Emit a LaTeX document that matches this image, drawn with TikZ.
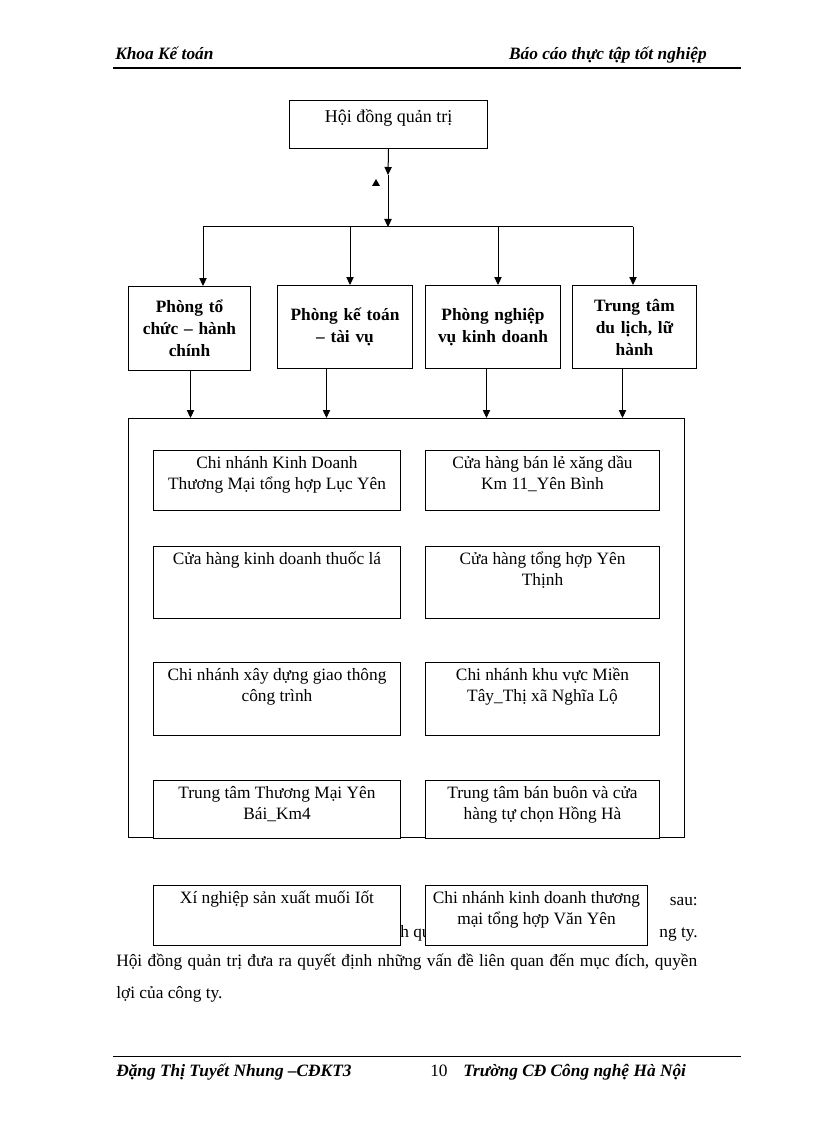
\documentclass[tikz,border=0pt]{standalone}
\usepackage{fontspec}
\setmainfont{Liberation Serif}
\usetikzlibrary{arrows.meta,positioning}

% text box with its lines pinned to the top
\newcommand{\cellbox}[4][13.5pt]{\parbox[c][#3][t]{#2}{\centering\rule{0pt}{#1}#4\par}}

\tikzset{
  page/.style={font=\fontsize{13}{15.5}\selectfont,inner sep=0pt},
  headtext/.style={font=\bfseries\itshape\fontsize{13}{15}\selectfont,inner sep=0pt},
  board/.style={draw=black,line width=0.75pt,inner sep=0pt,anchor=north west,font=\fontsize{13.5}{16}\selectfont},
  dept/.style={draw=black,line width=0.75pt,inner sep=0pt,anchor=north west,align=center,font=\bfseries\fontsize{13}{16.5}\selectfont},
  unit/.style={draw=black,line width=0.75pt,fill=white,inner sep=0pt,anchor=north west,font=\fontsize{13}{15.5}\selectfont},
  link/.style={line width=0.75pt,-{Triangle[width=5.5pt,length=6pt]}},
}

\begin{document}
\begin{tikzpicture}[x=0.75pt,y=-0.75pt]

\fill[white] (0,0) rectangle (816,1123);
\useasboundingbox (0,0) rectangle (816,1123);

% header and footer
\node[headtext,anchor=base west] (hl) at (115,60) {Khoa Kế toán};
\node[headtext,anchor=base east] (hr) at (707,60) {Báo cáo thực tập tốt nghiệp};
\draw[line width=1.5pt] (113,68) -- (741,68);
\draw[line width=0.6pt] (113,1056) -- (741,1056);
\node[headtext,anchor=base west] (fl) at (116,1076) {Đặng Thị Tuyết Nhung –CĐKT3};
\node[page,anchor=base west] (pg) at (430,1076) {10};
\node[headtext,anchor=base west] (fr) at (463,1076) {Trường CĐ Công nghệ Hà Nội};

% top level
\node[board] (hd) at (289,100) {\cellbox[16.5pt]{148.5pt}{36pt}{Hội đồng quản trị}};
\coordinate (mid) at (388,175);
\coordinate (bus) at (388,227);
\draw[link] (hd.south) -- (mid);
\draw[link] (mid) -- (bus);
\fill (376,179) -- (372,186) -- (380,186) -- cycle;

\coordinate (b1) at (203,227);
\coordinate (b2) at (350,227);
\coordinate (b3) at (498,227);
\coordinate (b4) at (633,227);
\draw[line width=0.75pt] (b1) -- (b4);

% departments
\node[dept,text width=91.5pt,minimum height=63pt] (d1) at (128,286) {Phòng tổ\\chức – hành\\chính};
\node[dept,text width=101.25pt,minimum height=62.25pt] (d2) at (277,285) {Phòng kế toán\\– tài vụ};
\node[dept,text width=101.25pt,minimum height=62.25pt] (d3) at (425,285) {Phòng nghiệp\\vụ kinh doanh};
\node[dept,text width=93pt,minimum height=62.25pt] (d4) at (572,285) {Trung tâm\\du lịch, lữ\\hành};

\foreach \i in {1,...,4}
  \draw[link] (b\i) -- (b\i |- d\i.north);

% units
\node[draw=black,line width=0.75pt,inner sep=0pt,anchor=north west,minimum width=417pt,minimum height=314.25pt] (group) at (128,418) {};

\foreach \d/\dx in {d1/0.75pt,d2/-13.9pt,d3/-4.9pt,d4/-9pt}
  \draw[link] ([xshift=\dx]\d.south) -- ([xshift=\dx]\d.south |- group.north);

\node[unit] (u1) at (153,450) {\cellbox{185.25pt}{45pt}{Chi nhánh Kinh Doanh\\Thương Mại tổng hợp Lục Yên}};
\node[unit] (u2) at (425,450) {\cellbox{175.5pt}{45pt}{Cửa hàng bán lẻ xăng dầu\\Km 11\_Yên Bình}};
\node[unit] (u3) at (153,546) {\cellbox{185.25pt}{54pt}{Cửa hàng kinh doanh thuốc lá}};
\node[unit] (u4) at (425,546) {\cellbox{175.5pt}{54pt}{Cửa hàng tổng hợp Yên\\Thịnh}};
\node[unit] (u5) at (153,662) {\cellbox{185.25pt}{54.75pt}{Chi nhánh xây dựng giao thông\\công trình}};
\node[unit] (u6) at (425,662) {\cellbox{175.5pt}{54.75pt}{Chi nhánh khu vực Miền\\Tây\_Thị xã Nghĩa Lộ}};
\node[unit] (u7) at (153,780) {\cellbox{185.25pt}{43.5pt}{Trung tâm Thương Mại Yên\\Bái\_Km4}};
\node[unit] (u8) at (425,780) {\cellbox{175.5pt}{43.5pt}{Trung tâm bán buôn và cửa\\hàng tự chọn Hồng Hà}};

% body text under the chart
\node[page,anchor=base east] (t1) at (698,905) {sau:};
\node[page,anchor=base west] (t2) at (400,937) {h qu};
\node[page,anchor=base east] (t3) at (698,937) {ng ty.};
\node[page,anchor=base west] (t4) at (116,966) {\makebox[435.75pt][s]{Hội đồng quản trị đưa ra quyết định những vấn đề liên quan đến mục đích, quyền}};
\node[page,anchor=base west] (t5) at (116,998) {lợi của công ty.};

\node[unit] (u9) at (153,885) {\cellbox{185.25pt}{45pt}{Xí nghiệp sản xuất muối Iốt}};
\node[unit] (u10) at (425,885) {\cellbox{166.5pt}{45pt}{Chi nhánh kinh doanh thương\\mại tổng hợp Văn Yên}};

\end{tikzpicture}
\end{document}
